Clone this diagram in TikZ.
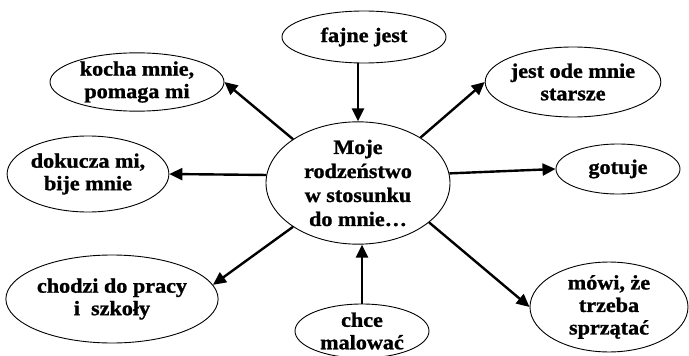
\documentclass[tikz,border=0pt]{standalone}
\usepackage{fontspec}
\setmainfont{Liberation Serif}[FakeStretch=1.08,BoldFeatures={FakeBold=1.2}]
\usetikzlibrary{shapes.geometric,arrows.meta}
\begin{document}
\begin{tikzpicture}[x=1pt,y=-1pt,
  bub/.style={draw,ellipse,line width=0.9pt,inner sep=0pt,align=center,
    font=\fontsize{20.5}{22.5}\selectfont\bfseries},
  arr/.style={line width=2.4pt,-{Triangle[length=13pt,width=12pt]}}]
\useasboundingbox (0,0) rectangle (689,356);
\node[bub,minimum width=164pt,minimum height=52pt] (f) at (364,37) {fajne jest};
\node[bub,minimum width=174pt,minimum height=58pt] (k) at (137,82) {kocha mnie,\\pomaga mi};
\node[bub,minimum width=160pt,minimum height=76pt] (d) at (88,174) {dokucza mi,\\bije mnie};
\node[bub,minimum width=200pt,minimum height=88pt] (ch) at (112,299) {chodzi do pracy\\i \ szkoły};
\node[bub,minimum width=134pt,minimum height=54pt] (cm) at (362,331) {chce\\malować};
\node[bub,minimum width=184pt,minimum height=122pt,font=\fontsize{20.5}{24}\selectfont\bfseries] (c) at (358,183) {Moje\\rodzeństwo\\w stosunku\\do mnie…};
\node[bub,minimum width=164pt,minimum height=70pt] (j) at (573,82) {jest ode mnie\\starsze};
\node[bub,minimum width=124pt,minimum height=50pt] (g) at (618,169) {gotuje};
\node[bub,minimum width=158pt,minimum height=74pt] (m) at (609,307) {mówi, że\\trzeba\\sprzątać};
\draw[arr] (c.north |- f.south) -- (c.north);
\draw[arr] (cm.north) -- (cm.north |- c.south);
\draw[arr] (c.146) -- (k.east);
\draw[arr] (c.175) -- (d.east);
\draw[arr] (c.214) -- (ch.8);
\draw[arr] (c.36) -- (j.west);
\draw[arr] (c.6) -- (g.west);
\draw[arr] (c.-29) -- (m.west);
\end{tikzpicture}
\end{document}
